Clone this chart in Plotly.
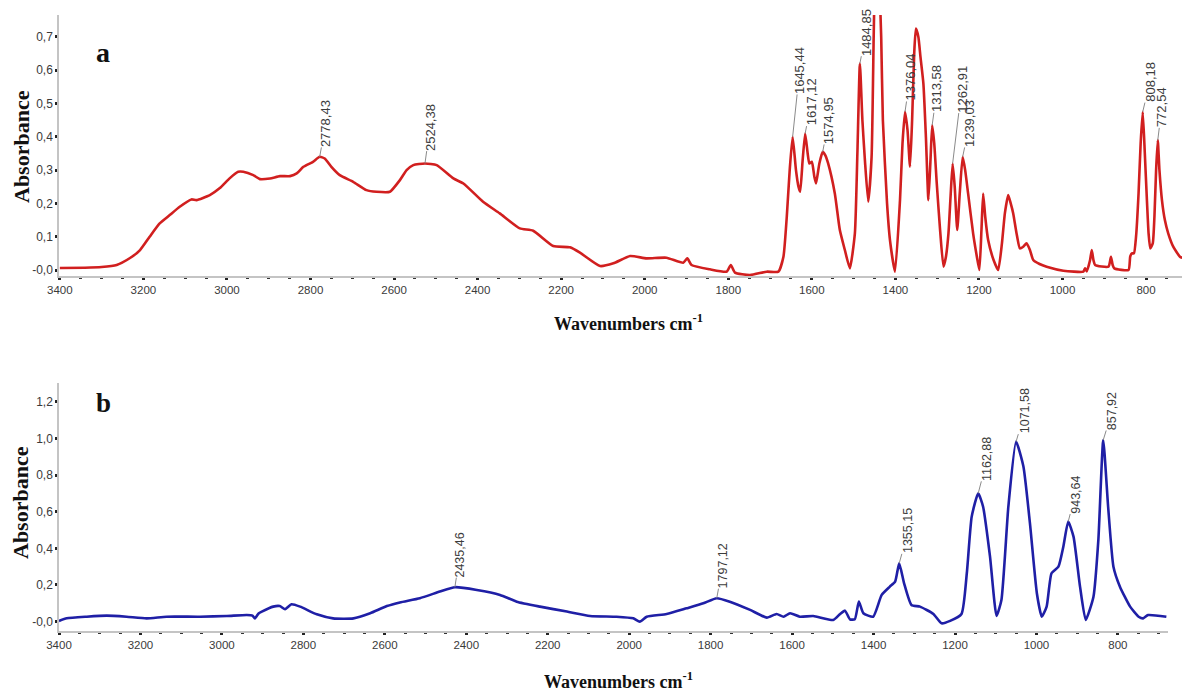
import plotly.graph_objects as go

# ---------------- Data: spectrum a (red) ----------------
wn_a = [3400, 3340, 3300, 3264, 3232, 3208, 3185, 3161, 3137, 3113, 3085, 3073, 3041, 3017,
        2993, 2973, 2961, 2937, 2921, 2897, 2873, 2849, 2833, 2817, 2794, 2778, 2766, 2750,
        2730, 2698, 2666, 2642, 2610, 2586, 2570, 2554, 2526, 2498, 2458, 2434, 2387, 2347,
        2299, 2267, 2219, 2179, 2155, 2107, 2075, 2035, 1996, 1948, 1908, 1898, 1888, 1844,
        1804, 1794, 1784, 1748, 1708, 1680, 1668, 1660, 1653, 1646, 1638, 1632, 1628, 1622,
        1616, 1610, 1606, 1600, 1594, 1590, 1582, 1574, 1568, 1561, 1545, 1533, 1521, 1509,
        1497, 1491, 1485, 1479, 1473, 1465, 1457, 1452, 1449, 1444, 1439, 1434, 1430, 1420,
        1413, 1401, 1389, 1383, 1377, 1371, 1365, 1360, 1355, 1351, 1345, 1340, 1333, 1327,
        1321, 1316, 1312, 1307, 1301, 1293, 1285, 1279, 1273, 1268, 1263, 1258, 1252, 1246,
        1239, 1233, 1226, 1214, 1205, 1199, 1194, 1190, 1185, 1178, 1165, 1154, 1145, 1138,
        1130, 1124, 1118, 1110, 1102, 1094, 1086, 1078, 1070, 1055, 1038, 998, 950, 946,
        942, 934, 930, 926, 922, 890, 884, 880, 876, 842, 838, 834, 829, 824, 818, 813,
        808, 803, 798, 794, 790, 784, 780, 776, 772, 768, 762, 755, 747, 735, 719, 710]
abs_a = [0.006, 0.007, 0.009, 0.015, 0.036, 0.060, 0.100, 0.140, 0.165, 0.190, 0.212, 0.210, 0.225, 0.246,
         0.276, 0.295, 0.295, 0.285, 0.273, 0.275, 0.282, 0.282, 0.290, 0.310, 0.325, 0.340, 0.335, 0.310,
         0.285, 0.265, 0.240, 0.235, 0.235, 0.270, 0.300, 0.315, 0.320, 0.315, 0.275, 0.260, 0.205, 0.170,
         0.125, 0.118, 0.072, 0.068, 0.052, 0.012, 0.020, 0.042, 0.035, 0.037, 0.022, 0.035, 0.015, 0.002,
         -0.005, 0.015, -0.008, -0.015, -0.005, -0.005, 0.040, 0.160, 0.300, 0.400, 0.300, 0.250, 0.235, 0.330,
         0.410, 0.350, 0.320, 0.325, 0.280, 0.260, 0.320, 0.355, 0.345, 0.320, 0.230, 0.120, 0.060, 0.005,
         0.110, 0.350, 0.620, 0.450, 0.330, 0.205, 0.340, 0.700, 0.880, 0.960, 0.880, 0.700, 0.450, 0.200,
         0.090, -0.005, 0.210, 0.380, 0.475, 0.420, 0.310, 0.450, 0.650, 0.725, 0.700, 0.640, 0.560, 0.400,
         0.210, 0.330, 0.435, 0.380, 0.260, 0.120, 0.010, 0.040, 0.110, 0.220, 0.320, 0.250, 0.120, 0.230,
         0.340, 0.300, 0.230, 0.110, 0.040, 0.000, 0.120, 0.230, 0.160, 0.090, 0.030, 0.000, 0.080, 0.170,
         0.225, 0.200, 0.170, 0.110, 0.065, 0.070, 0.080, 0.060, 0.030, 0.018, 0.010, -0.002, -0.005, 0.005,
         -0.004, 0.030, 0.060, 0.030, 0.015, 0.010, 0.040, 0.015, 0.005, 0.000, 0.040, 0.050, 0.050, 0.100, 0.230, 0.380,
         0.475, 0.350, 0.210, 0.110, 0.065, 0.080, 0.160, 0.300, 0.390, 0.300, 0.210, 0.150, 0.110, 0.070, 0.040, 0.035]

peak_text_a = ["2778,43", "2524,38", "1645,44", "1617,12", "1574,95", "1484,85", "1376,04",
               "1313,58", "1262,91", "1239,03", "808,18", "772,54"]
peak_wn_a = [2778, 2526, 1646, 1616, 1574, 1485, 1377, 1312, 1263, 1239, 808, 772]
peak_abs_a = [0.34, 0.32, 0.40, 0.41, 0.355, 0.62, 0.475, 0.435, 0.32, 0.34, 0.475, 0.39]

# ---------------- Data: spectrum b (blue) ----------------
wn_b = [3400, 3381, 3332, 3283, 3234, 3185, 3136, 3054, 2988, 2939, 2925, 2919, 2910, 2902,
        2874, 2858, 2845, 2829, 2808, 2767, 2727, 2677, 2636, 2595, 2563, 2514, 2465, 2428,
        2374, 2317, 2276, 2219, 2153, 2096, 2031, 1990, 1974, 1957, 1908, 1859, 1818, 1785,
        1753, 1703, 1662, 1638, 1621, 1605, 1581, 1548, 1499, 1482, 1470, 1458, 1446, 1436,
        1425, 1401, 1380, 1360, 1347, 1337, 1325, 1307, 1286, 1253, 1233, 1212, 1184, 1171,
        1159, 1143, 1131, 1114, 1098, 1086, 1069, 1050, 1032, 1016, 999, 987, 975, 963,
        946, 934, 922, 909, 893, 879, 860, 848, 836, 824, 811, 795, 770, 749, 738, 726, 681]
abs_b = [0.004, 0.018, 0.027, 0.033, 0.027, 0.018, 0.027, 0.027, 0.031, 0.036, 0.033, 0.018, 0.045, 0.055,
         0.082, 0.085, 0.068, 0.095, 0.082, 0.040, 0.018, 0.018, 0.046, 0.085, 0.105, 0.128, 0.164, 0.188,
         0.173, 0.146, 0.109, 0.082, 0.055, 0.031, 0.027, 0.018, 0.000, 0.027, 0.042, 0.073, 0.100, 0.128,
         0.109, 0.064, 0.022, 0.042, 0.027, 0.046, 0.027, 0.031, 0.009, 0.042, 0.060, 0.013, 0.013, 0.109,
         0.046, 0.027, 0.146, 0.191, 0.218, 0.318, 0.209, 0.091, 0.082, 0.042, -0.009, 0.004, 0.042, 0.264,
         0.573, 0.700, 0.627, 0.355, 0.031, 0.118, 0.627, 0.982, 0.846, 0.537, 0.155, 0.027, 0.082, 0.264,
         0.300, 0.409, 0.546, 0.464, 0.191, 0.009, 0.136, 0.446, 0.991, 0.627, 0.300, 0.191, 0.082, 0.027, 0.018, 0.036, 0.027]

peak_text_b = ["2435,46", "1797,12", "1355,15", "1162,88", "1071,58", "943,64", "857,92"]
peak_wn_b = [2428, 1785, 1337, 1143, 1050, 922, 836]
peak_abs_b = [0.188, 0.128, 0.318, 0.700, 0.982, 0.546, 0.991]

y_ticks_a = [0, 0.1, 0.2, 0.3, 0.4, 0.5, 0.6, 0.7]
y_ticktext_a = ["-0,0", "0,1", "0,2", "0,3", "0,4", "0,5", "0,6", "0,7"]
y_ticks_b = [0, 0.2, 0.4, 0.6, 0.8, 1.0, 1.2]
y_ticktext_b = ["-0,0", "0,2", "0,4", "0,6", "0,8", "1,0", "1,2"]

# ---------------- Style ----------------
W, H = 1182, 692
ML = 59
PW = W - ML
RED = "#d11f1f"
BLUE = "#1f1fa6"
AXIS_GRAY = "#c4c4c4"
TICK_FONT = dict(family="Liberation Sans, Arial", size=11.5, color="#3a3a3a")
SERIF = "Liberation Serif, Times New Roman, serif"

# label leader gaps (px) and horizontal offsets (px)
gap_a = [7, 10, 40, 5, 5, 5, 8, 10, 48, 7, 7, 10]
dx_a = [6, 5, 7, 6, 6, 6, 5, 5, 9, 7, 7, 4]
gap_b = [7, 7, 7, 9, 5, 5, 7]
dx_b = [5, 6, 9, 9, 9, 7, 9]

fig = go.Figure()
fig.add_trace(go.Scatter(x=wn_a, y=abs_a, mode="lines", xaxis="x", yaxis="y",
                         line=dict(color=RED, width=2.6, shape="spline", smoothing=0.5),
                         showlegend=False, hoverinfo="skip"))
fig.add_trace(go.Scatter(x=wn_b, y=abs_b, mode="lines", xaxis="x2", yaxis="y2",
                         line=dict(color=BLUE, width=2.6, shape="spline", smoothing=0.5),
                         showlegend=False, hoverinfo="skip"))

def xaxis_style(rng, domain, anchor):
    return dict(range=rng, domain=domain, anchor=anchor, showgrid=False, zeroline=False,
                showline=True, linecolor=AXIS_GRAY, linewidth=1.5,
                tickmode="linear", tick0=3400, dtick=200,
                ticks="outside", ticklen=2, tickwidth=3, tickcolor="#222",
                minor=dict(dtick=50, tick0=3400, ticks="outside", ticklen=1, tickwidth=2.5, tickcolor="#333"),
                tickfont=TICK_FONT, tickformat="d")

def yaxis_style(rng, domain, anchor, tv, tt):
    return dict(range=rng, domain=domain, anchor=anchor, showgrid=False, zeroline=False,
                showline=True, linecolor=AXIS_GRAY, linewidth=1.5,
                tickmode="array", tickvals=tv, ticktext=tt,
                ticks="outside", ticklen=2, tickwidth=3, tickcolor="#222",
                tickfont=dict(family="Liberation Sans, Arial", size=12, color="#3a3a3a"))

fig.update_layout(
    width=W, height=H,
    margin=dict(l=ML, r=0, t=0, b=0),
    paper_bgcolor="white", plot_bgcolor="white",
    xaxis=xaxis_style([3402, 714], [0, 1], "y"),
    yaxis=yaxis_style([-0.018, 0.766], [1 - 276 / H, 1 - 15 / H], "x", y_ticks_a, y_ticktext_a),
    xaxis2=xaxis_style([3400, 677], [0, (1168 - ML) / PW], "y2"),
    yaxis2=yaxis_style([-0.051, 1.302], [1 - 631 / H, 1 - 383 / H], "x2", y_ticks_b, y_ticktext_b),
)

def label_len(t, size=13):
    return sum(3.6 if c == "," else 7.2 for c in t) * size / 13.0

anns = []
for t, x, y, g, dx in zip(peak_text_a, peak_wn_a, peak_abs_a, gap_a, dx_a):
    anns.append(dict(x=x, y=y, xref="x", yref="y", text=t, textangle=-90,
                     showarrow=True, arrowhead=0, arrowwidth=1, arrowcolor="#8a8a8a",
                     ax=dx, ay=-(g + label_len(t) / 2 + 3), standoff=0, borderpad=0,
                     font=dict(family="Liberation Sans, Arial", size=13, color="#3c3c3c")))
for t, x, y, g, dx in zip(peak_text_b, peak_wn_b, peak_abs_b, gap_b, dx_b):
    anns.append(dict(x=x, y=y, xref="x2", yref="y2", text=t, textangle=-90,
                     showarrow=True, arrowhead=0, arrowwidth=1, arrowcolor="#8a8a8a",
                     ax=dx, ay=-(g + label_len(t, 12.5) / 2 + 3), standoff=0, borderpad=0,
                     font=dict(family="Liberation Sans, Arial", size=12.5, color="#3c3c3c")))

def px_x(p):
    return (p - ML) / PW

def px_y(p):
    return 1 - p / H

# axis titles and panel letters
anns += [
    dict(text="<b>Wavenumbers cm<sup>-1</sup></b>", x=px_x(628), y=px_y(322), xref="paper", yref="paper",
         showarrow=False, font=dict(family=SERIF, size=18, color="#111"), xanchor="center", yanchor="middle"),
    dict(text="<b>Wavenumbers cm<sup>-1</sup></b>", x=px_x(618), y=px_y(680), xref="paper", yref="paper",
         showarrow=False, font=dict(family=SERIF, size=18, color="#111"), xanchor="center", yanchor="middle"),
    dict(text="<b>Absorbance</b>", x=px_x(21), y=px_y(147), xref="paper", yref="paper", textangle=-90,
         showarrow=False, font=dict(family=SERIF, size=22, color="#111"), xanchor="center", yanchor="middle"),
    dict(text="<b>Absorbance</b>", x=px_x(20), y=px_y(502), xref="paper", yref="paper", textangle=-90,
         showarrow=False, font=dict(family=SERIF, size=22, color="#111"), xanchor="center", yanchor="middle"),
    dict(text="<b>a</b>", x=px_x(103), y=px_y(52), xref="paper", yref="paper",
         showarrow=False, font=dict(family=SERIF, size=28, color="#111"), xanchor="center", yanchor="middle"),
    dict(text="<b>b</b>", x=px_x(103), y=px_y(403), xref="paper", yref="paper",
         showarrow=False, font=dict(family=SERIF, size=27, color="#111"), xanchor="center", yanchor="middle"),
]
fig.update_layout(annotations=anns)

fig.write_html("out.html")
